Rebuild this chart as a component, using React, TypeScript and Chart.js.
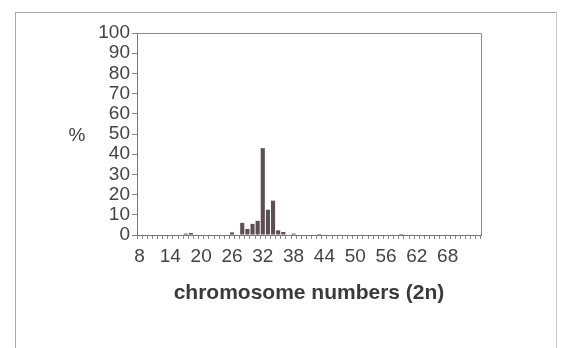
import React, { useEffect, useRef } from "react";
import { Chart, registerables } from "chart.js";

Chart.register(...registerables);

const categories: string[] = [
  "8", "9", "10", "11", "12", "13", "14", "15", "16", "17", "18", "19", "20", "21", "22", "23", "24", "25",
  "26", "27", "28", "29", "30", "31", "32", "33", "34", "35", "36", "37", "38", "39", "40", "41", "42", "43",
  "44", "45", "46", "47", "48", "49", "50", "51", "52", "53", "54", "55", "56", "57", "58", "59", "60", "61",
  "62", "63", "64", "65", "66", "67", "68", "69", "70", "71", "72", "73", "74",
];

const percentValues: number[] = [
  0, 0, 0, 0, 0, 0, 0, 0, 0, 0.7, 1, 0, 0, 0, 0, 0, 0, 0,
  1.3, 0, 6, 3, 5.5, 7, 43, 12.5, 17, 2.3, 1.5, 0, 0.7, 0, 0, 0, 0, 0.5,
  0, 0, 0, 0, 0, 0, 0, 0, 0, 0, 0, 0, 0, 0, 0, 0.5, 0, 0,
  0, 0, 0, 0, 0, 0, 0, 0, 0, 0, 0, 0, 0,
];

const xTickLabels: string[] = ["8", "14", "20", "26", "32", "38", "44", "50", "56", "62", "68"];
const yTickValues: number[] = [0, 10, 20, 30, 40, 50, 60, 70, 80, 90, 100];

const FONT = '"Liberation Sans", Arial, sans-serif';

const overlay = {
  id: "overlay",
  afterDraw(chart: any) {
    const { ctx, chartArea: a } = chart;
    ctx.save();
    ctx.strokeStyle = "#8c8c8c";
    ctx.lineWidth = 1;
    ctx.beginPath();
    ctx.moveTo(a.left, Math.round(a.top) + 0.5);
    ctx.lineTo(Math.round(a.right) + 0.5, Math.round(a.top) + 0.5);
    ctx.lineTo(Math.round(a.right) + 0.5, a.bottom);
    ctx.stroke();
    ctx.fillStyle = "#444";
    ctx.font = "19px " + FONT;
    ctx.textAlign = "center";
    ctx.textBaseline = "middle";
    const y = chart.scales.y.getPixelForValue(50);
    ctx.fillText("%", a.left - 60, y + 2);
    ctx.restore();
  },
};

export default function App() {
  const ref = useRef<HTMLCanvasElement | null>(null);
  useEffect(() => {
    if (!ref.current) return;
    const chart = new Chart(ref.current, {
      type: "bar",
      data: {
        labels: categories,
        datasets: [
          {
            data: percentValues,
            backgroundColor: "#5d4e51",
            borderWidth: 0,
            barPercentage: 0.8,
            categoryPercentage: 1,
          },
        ],
      },
      options: {
        responsive: false,
        animation: false,
        layout: { padding: { top: 33, right: 80, bottom: 42, left: 0 } },
        plugins: { legend: { display: false }, tooltip: { enabled: false } },
        scales: {
          x: {
            grid: { drawOnChartArea: false, tickLength: 4, color: "#888", offset: true },
            border: { color: "#777" },
            ticks: {
              autoSkip: false,
              maxRotation: 0,
              minRotation: 0,
              padding: 6,
              color: "#444",
              font: { size: 19, family: FONT },
              callback: (_v: any, i: number) => (xTickLabels.includes(categories[i]) ? categories[i] : ""),
            },
            title: {
              display: true,
              text: "chromosome numbers (2n)",
              color: "#3a3a3a",
              font: { size: 21, weight: "bold", family: FONT },
              padding: 0,
            },
            afterFit: (s: any) => {
              s.height = 71;
            },
          },
          y: {
            min: 0,
            max: 100,
            afterBuildTicks: (s: any) => {
              s.ticks = yTickValues.map((v) => ({ value: v }));
            },
            grid: { drawOnChartArea: false, tickLength: 5, color: "#888" },
            border: { color: "#777" },
            ticks: { autoSkip: false, padding: 2, color: "#444", font: { size: 19, family: FONT } },
            afterFit: (s: any) => {
              s.width = 137;
            },
          },
        },
      },
      plugins: [overlay],
    });
    return () => chart.destroy();
  }, []);
  return (
    <div style={{ position: "fixed", left: 0, top: 0, width: 561, height: 348, background: "#fff" }}>
      <div
        style={{
          position: "absolute",
          left: 15,
          top: 12,
          width: 540,
          height: 340,
          borderLeft: "1px solid #a8a8a8",
          borderTop: "1px solid #a8a8a8",
          borderRight: "1px solid #c8c8c8",
        }}
      />
      <canvas ref={ref} width={561} height={348} style={{ position: "absolute", left: 0, top: 0 }} />
    </div>
  );
}
